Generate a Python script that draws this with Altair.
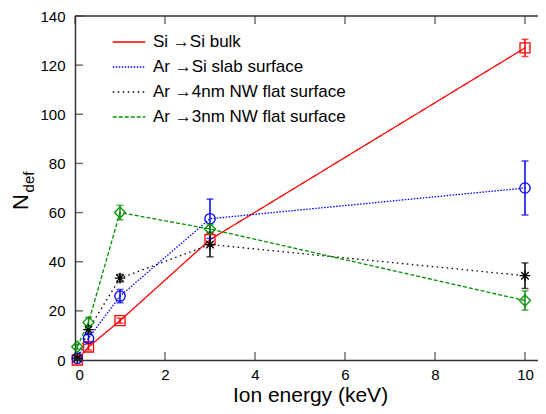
import altair as alt
import pandas as pd

series = ["Si \u2192Si bulk", "Ar \u2192Si slab surface",
          "Ar \u21924nm NW flat surface", "Ar \u21923nm NW flat surface"]
energy = [0.05, 0.3, 1, 3, 10]
si_bulk = [0, 5.3, 16, 49, 127]
si_bulk_err = [0.8, 1.2, 1, 2.5, 3.5]
slab = [0.7, 8.8, 26, 57.5, 70]
slab_err = [0.8, 1.5, 2.7, 8, 11]
nw4 = [0.7, 12.4, 33.3, 47, 34.3]
nw4_err = [0.6, 1.5, 1.5, 5, 5.2]
nw3 = [5.4, 15.3, 60, 53.3, 24.2]
nw3_err = [1, 2, 2.9, 2, 3.9]

x_ticks = [0, 2, 4, 6, 8, 10]
y_ticks = [0, 20, 40, 60, 80, 100, 120, 140]

colors = ["#ff0000", "#0000ff", "#000000", "#009000"]
dashes = [[1, 0], [1.5, 1.5], [1.5, 3.5], [4, 2]]
STAR = "M0,-1L0,1M-1,0L1,0M-0.7,-0.7L0.7,0.7M-0.7,0.7L0.7,-0.7"
shapes = ["square", "circle", STAR, "diamond"]
sizes = [100, 121, 64, 121]

rows = []
for s, vals, errs in zip(series, [si_bulk, slab, nw4, nw3],
                         [si_bulk_err, slab_err, nw4_err, nw3_err]):
    for e, v, d in zip(energy, vals, errs):
        rows.append({"S": s, "E": e, "N": v,
                     "lo": max(v - d, 0), "hi": v + d})
df = pd.DataFrame(rows)

W, H = 463, 344
FONT = "Liberation Sans"
AX = "#333333"

xs = alt.Scale(domain=[0, W / 45.0], nice=False, zero=False)
ys = alt.Scale(domain=[0, 140], nice=False)
cs = alt.Scale(domain=series, range=colors)
ds = alt.Scale(domain=series, range=dashes)
shs = alt.Scale(domain=series, range=shapes)
szs = alt.Scale(domain=series, range=sizes)

xaxis = alt.Axis(title="Ion energy (keV)", values=x_ticks, grid=False, ticks=False,
                 tickSize=0, labelPadding=7, titlePadding=2, domainColor=AX,
                 domainWidth=1.5, labelFontSize=15, titleFontSize=21, titleX=235,
                 titleFontWeight="normal", labelColor="black", titleColor="black")
yaxis = alt.Axis(title=None, values=y_ticks, grid=False, ticks=False, tickSize=0,
                 labelPadding=10, domainColor=AX, domainWidth=1.5,
                 labelFontSize=15, labelColor="black")

leg = alt.Legend(
    title=None, orient="none", legendX=37, legendY=9, symbolType="stroke",
    symbolSize=1060, symbolStrokeWidth=1.3, labelFont=FONT, labelFontSize=17,
    labelColor="black", labelOffset=7, rowPadding=-13.5, padding=0, labelLimit=400,
)

base = alt.Chart(df)
col_nl = alt.Color("S:N", scale=cs, legend=None)

lines = base.mark_line(strokeWidth=1.3).encode(
    x=alt.X("E:Q", scale=xs, axis=xaxis),
    y=alt.Y("N:Q", scale=ys, axis=yaxis),
    color=alt.Color("S:N", scale=cs, legend=leg),
    strokeDash=alt.StrokeDash("S:N", scale=ds, legend=leg),
    order="E:Q",
)

err = base.mark_rule(strokeWidth=1.5).encode(
    x=alt.X("E:Q", scale=xs), y=alt.Y("lo:Q", scale=ys), y2="hi:Q", color=col_nl,
)
cap_lo = base.mark_tick(orient="horizontal", size=7, thickness=1.5).encode(
    x=alt.X("E:Q", scale=xs), y=alt.Y("lo:Q", scale=ys), color=col_nl,
)
cap_hi = base.mark_tick(orient="horizontal", size=7, thickness=1.5).encode(
    x=alt.X("E:Q", scale=xs), y=alt.Y("hi:Q", scale=ys), color=col_nl,
)

pts = base.mark_point(filled=False, strokeWidth=1.3, opacity=1).encode(
    x=alt.X("E:Q", scale=xs), y=alt.Y("N:Q", scale=ys),
    color=col_nl,
    shape=alt.Shape("S:N", scale=shs, legend=None),
    size=alt.Size("S:N", scale=szs, legend=None),
)

xt = alt.Chart(pd.DataFrame({"E": x_ticks}))
yt = alt.Chart(pd.DataFrame({"N": y_ticks}))
tick_b = xt.mark_tick(orient="vertical", size=8, thickness=1.5, color=AX).encode(
    x=alt.X("E:Q", scale=xs), y=alt.value(H - 4))
tick_t = xt.mark_tick(orient="vertical", size=8, thickness=1.5, color=AX).encode(
    x=alt.X("E:Q", scale=xs), y=alt.value(4))
tick_l = yt.mark_tick(orient="horizontal", size=8, thickness=1.5, color=AX).encode(
    y=alt.Y("N:Q", scale=ys), x=alt.value(4))
top = alt.Chart(pd.DataFrame({"N": [140]})).mark_rule(color=AX, strokeWidth=1.5).encode(
    y=alt.Y("N:Q", scale=ys))

t1 = alt.Chart(pd.DataFrame({"t": ["N"]})).mark_text(
    angle=270, fontSize=22, font=FONT, color="black", align="center", baseline="middle"
).encode(text="t:N", x=alt.value(-54), y=alt.value(186))
t2 = alt.Chart(pd.DataFrame({"t": ["def"]})).mark_text(
    angle=270, fontSize=15, font=FONT, color="black", align="center", baseline="middle"
).encode(text="t:N", x=alt.value(-46), y=alt.value(166))

chart = alt.layer(lines, err, cap_lo, cap_hi, pts, tick_b, tick_t, tick_l, top, t1, t2).resolve_legend(
    color="independent", strokeDash="independent", shape="independent", size="independent"
).properties(
    width=W, height=H,
    autosize=alt.AutoSizeParams(type="none"),
    padding={"left": 67, "top": 8, "right": 0, "bottom": 46},
).configure_view(stroke=None).configure_axis(
    labelFont=FONT, titleFont=FONT
)

chart.save("out.html", embed_options={"renderer": "svg", "actions": False})
